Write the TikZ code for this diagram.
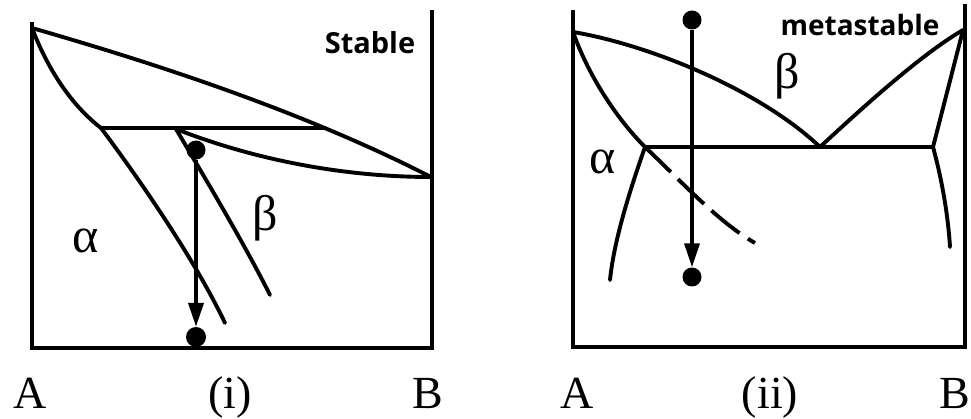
\documentclass[tikz,border=0pt]{standalone}
\usepackage{fontspec}
\setmainfont{Liberation Serif}
\newfontfamily\tagfont{Open Sans}[BoldFont={Open Sans Bold}]
\usetikzlibrary{positioning,arrows.meta,calc}

\begin{document}
\begin{tikzpicture}[x=1pt,y=-1pt]
\tikzset{
  PL/.style={line width=3.9pt,line cap=round,line join=round},
  AX/.style={line width=4.1pt,line join=miter},
  DT/.style={circle,fill=black,inner sep=0pt,minimum size=19pt},
  AR/.style={line width=3.6pt,-{Triangle[length=24pt,width=15pt]}},
  DS/.style={line width=3.9pt,dash pattern=on 36pt off 10pt},
  AB/.style={font=\fontsize{46}{46}\selectfont,anchor=base},
  GR/.style={font=\fontsize{50}{50}\selectfont},
  TG/.style={font=\tagfont\bfseries\fontsize{29}{29}\selectfont},
}
\useasboundingbox (0,0) rectangle (971,419);

% (i) stable
\draw[AX] (32,22)--(32,348)--(432,348)--(432,10);

\coordinate (lTA) at (32,28);
\coordinate (lTB) at (431,177);
\coordinate (lE1) at (101,128);
\coordinate (lE2) at (325,128);
\coordinate (lP)  at (176,129);
\coordinate (lS1) at (225,323);
\coordinate (lS2) at (270,295);

\draw[PL](lTA) .. controls (150,62) and (300,110) .. (lTB);
\draw[PL](lTA) .. controls (50,75) and (75,108) .. (lE1)
               .. controls (140,180) and (195,260) .. (lS1);
\draw[PL](lE1)--(lE2);
\draw[PL](lP) .. controls (260,162) and (350,177) .. (lTB);
\draw[PL](lP) .. controls (205,178) and (245,245) .. (lS2);

\node[DT](dL1) at (196,150){};
\node[DT,minimum size=20pt](dL2) at (196,337){};
\draw[AR](dL1)--(dL2);

\node[GR](alL) at (86,241){α};
\node[GR](beL) at (265,218){β};
\node[TG](stab) at (370,43){Stable};

\node[AB](aL) at (30,408){A};
\node[AB](iL) at (230,408){(i)};
\node[AB](bL) at (428,408){B};

% (ii) metastable
\draw[AX] (573,10)--(573,347)--(965,347)--(965,4);

\coordinate (rTA) at (573,32);
\coordinate (rTB) at (963,30);
\coordinate (rE1) at (645,147);
\coordinate (rEu) at (820,147);
\coordinate (rE2) at (933,147);
\coordinate (rS1) at (610,280);
\coordinate (rS2) at (950,247);
\coordinate (rD)  at (755,243);

\draw[PL](rTA) .. controls (650,45) and (760,90) .. (rEu)
               .. controls (860,110) and (920,55) .. (rTB);
\draw[PL](rTA) .. controls (590,80) and (620,122) .. (rE1)--(rE2)--(rTB);
\draw[PL](rE1) .. controls (630,190) and (614,240) .. (rS1);
\draw[PL](rE2) .. controls (942,180) and (948,215) .. (rS2);
\draw[DS](rE1) .. controls (680,180) and (718,222) .. (rD);

\node[DT](dR1) at (692,20){};
\node[DT](dR2) at (692,277){};
\draw[AR](dR1)--(dR2);

\node[GR](alR) at (603,162){α};
\node[GR](beR) at (787,76){β};
\node[TG,font=\tagfont\bfseries\fontsize{28}{28}\selectfont](meta) at (860,25){metastable};

\node[AB](aR) at (577,408){A};
\node[AB](iR) at (770,408){(ii)};
\node[AB](bR) at (955,408){B};

\end{tikzpicture}
\end{document}
